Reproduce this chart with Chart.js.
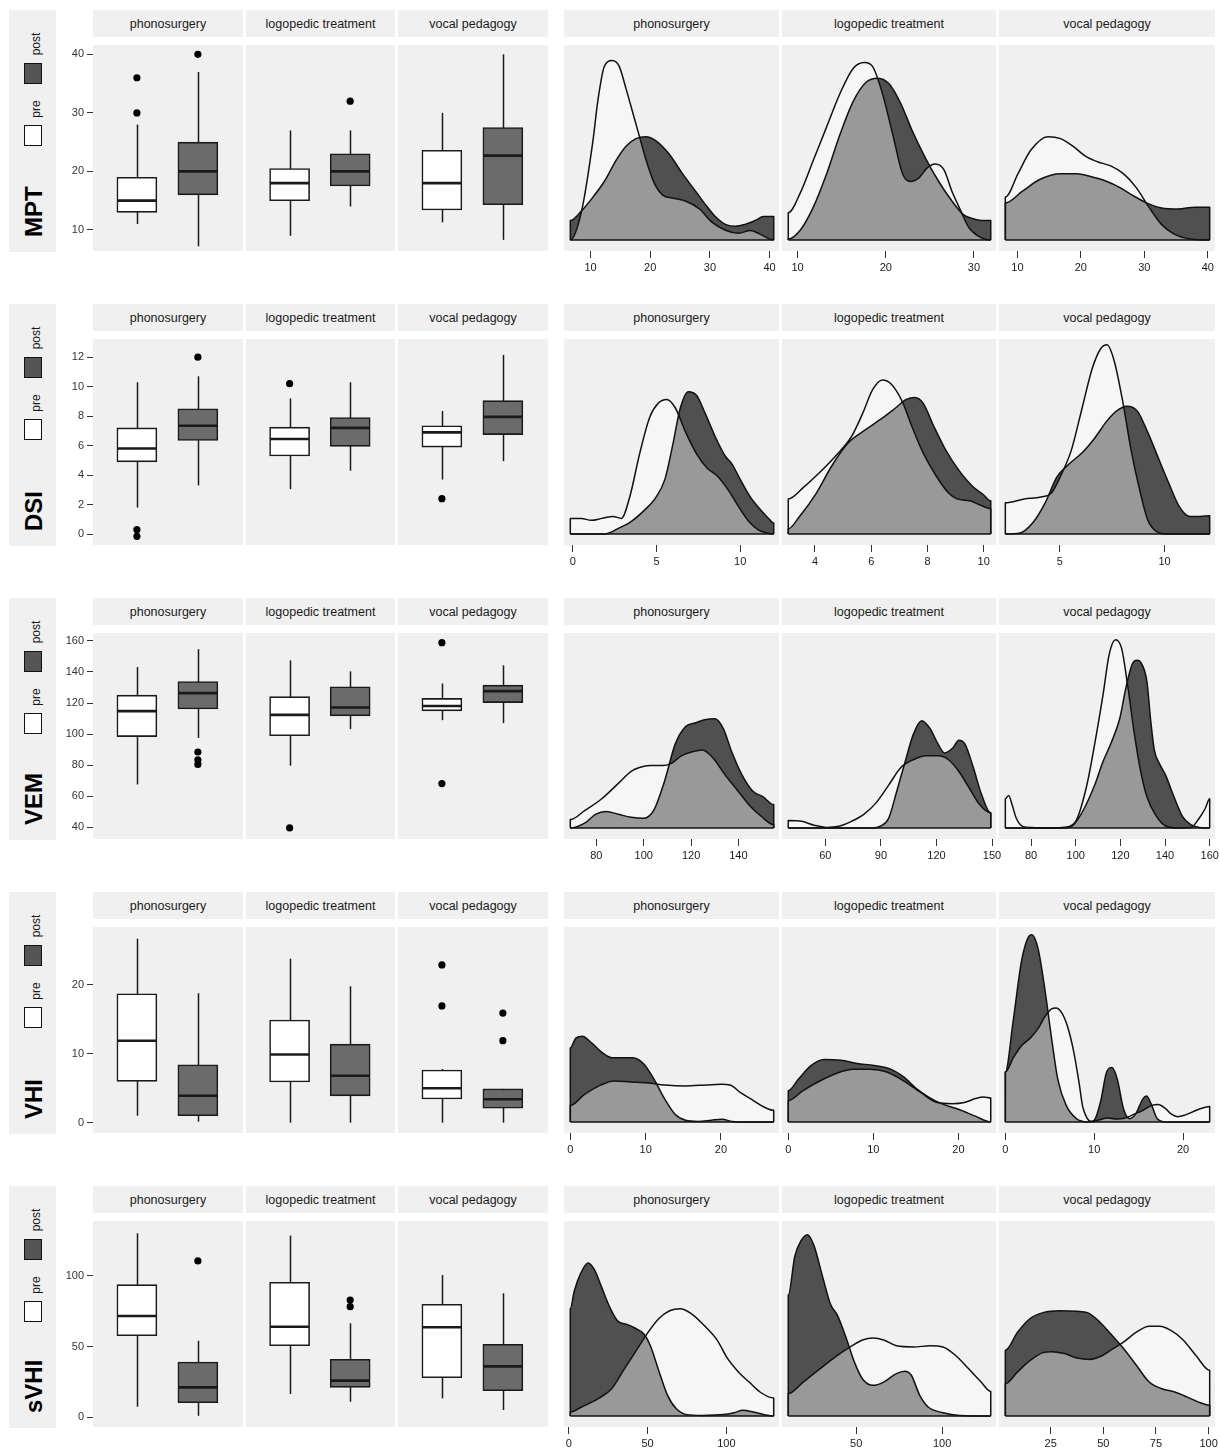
<!DOCTYPE html>
<html><head><meta charset="utf-8">
<script src="https://cdn.jsdelivr.net/npm/chart.js@4.4.1/dist/chart.umd.min.js"></script>
<style>
body{margin:0;background:#fff;font-family:"Liberation Sans",Arial,Helvetica,sans-serif;}
#root{position:relative;width:1219px;height:1453px;overflow:hidden;background:#fff;}
.strip{position:absolute;background:#f0f0f0;color:#1a1a1a;font-size:12.5px;display:flex;align-items:center;justify-content:center;white-space:nowrap;}
.lgbox{position:absolute;background:#f0f0f0;}
.rot{position:absolute;text-align:center;transform:rotate(-90deg);white-space:nowrap;color:#1a1a1a;}
.sq{position:absolute;box-sizing:border-box;border:1.5px solid #111;}
canvas{position:absolute;}
</style></head>
<body><div id="root"></div>
<script>
// ---------------- categories ----------------
const groups = ['phonosurgery', 'logopedic treatment', 'vocal pedagogy'];
const phases = ['pre', 'post'];
const measures = ['MPT', 'DSI', 'VEM', 'VHI', 'sVHI'];

// ---------------- boxplot stats: [lower whisker, Q1, median, Q3, upper whisker] ----------------
const mptBoxPre   = [[11, 13, 15, 19, 28], [9, 15, 18, 20.5, 27], [11.3, 13.4, 18, 23.6, 30]];
const mptBoxPost  = [[7.2, 16, 20, 25, 37], [14, 17.5, 20, 23, 27], [8.3, 14.3, 22.7, 27.5, 40]];
const mptOutPre   = [[36, 30], [], []];
const mptOutPost  = [[40], [32], []];

const dsiBoxPre   = [[1.8, 4.9, 5.8, 7.2, 10.3], [3.05, 5.3, 6.45, 7.25, 9.2], [3.7, 5.9, 6.9, 7.35, 8.35]];
const dsiBoxPost  = [[3.3, 6.35, 7.35, 8.5, 10.7], [4.3, 5.95, 7.2, 7.9, 10.3], [4.95, 6.75, 7.95, 9.05, 12.15]];
const dsiOutPre   = [[0.3, -0.15], [10.2], [2.4]];
const dsiOutPost  = [[12], [], []];

const vemBoxPre   = [[67.6, 98.4, 114.8, 125.1, 143.2], [79.7, 99, 112.4, 124.1, 147.5], [109, 115, 118.1, 123, 132.6]];
const vemBoxPost  = [[97.6, 116.2, 126.4, 133.9, 154.7], [103.3, 111.8, 117.1, 130.5, 140.4], [107.1, 120.3, 127.7, 131.5, 144.3]];
const vemOutPre   = [[], [39.6], [158.9, 68.2]];
const vemOutPost  = [[88.5, 83.5, 80.5], [], []];

const vhiBoxPre   = [[1, 6, 11.9, 18.7, 26.7], [0, 5.9, 9.9, 14.9, 23.8], [0, 3.45, 5, 7.65, 7.8]];
const vhiBoxPost  = [[0.15, 1, 3.9, 8.4, 18.8], [0, 3.9, 6.8, 11.4, 19.8], [0, 2.1, 3.4, 4.9, 4.9]];
const vhiOutPre   = [[], [], [22.9, 16.95]];
const vhiOutPost  = [[], [], [15.9, 11.9]];

const svhiBoxPre  = [[7.5, 57.6, 71.5, 93.7, 129.9], [16.5, 50.6, 64, 95.3, 128.3], [13.4, 28, 63.6, 79.8, 100.5]];
const svhiBoxPost = [[1.1, 10.3, 21.2, 39.1, 54.1], [11, 21.2, 25.9, 41, 66.4], [5.2, 18.8, 36, 51.6, 87.6]];
const svhiOutPre  = [[], [], []];
const svhiOutPost = [[110.4], [82.8, 78.1], []];

// boxplot y-axis ranges and tick labels
const boxYRange = [[6.4, 41.6], [-0.74, 13.23], [32.5, 165.1], [-1.5, 28.4], [-6.8, 138.6]];
const boxYTicks = [[10, 20, 30, 40], [0, 2, 4, 6, 8, 10, 12], [40, 60, 80, 100, 120, 140, 160], [0, 10, 20], [0, 50, 100]];

// ---------------- density curves: [x, relative density] ----------------
const mptDensPre = [
  [[6.6,0],[8.5,0.15],[10.4,0.51],[11.2,0.71],[12.3,0.89],[13.6,0.92],[14.8,0.89],[15.9,0.78],[17.1,0.65],[18.2,0.53],[19.3,0.41],[20.7,0.29],[22.1,0.23],[23.7,0.215],[25.9,0.2],[28.2,0.16],[30.4,0.09],[32.6,0.05],[34.8,0.035],[36.8,0.048],[38.4,0.03],[40.7,0]],
  [[8.95,0.14],[10.3,0.24],[11.8,0.41],[13.3,0.58],[14.8,0.75],[16.3,0.88],[17.6,0.91],[18.5,0.89],[19.5,0.77],[20.8,0.54],[21.9,0.34],[22.8,0.3],[23.8,0.32],[24.7,0.37],[25.6,0.39],[26.6,0.36],[27.5,0.25],[28.5,0.15],[29.4,0.065],[30.5,0.02],[31.9,0]],
  [[8.1,0.22],[10.1,0.34],[12.1,0.46],[14.8,0.53],[16.8,0.52],[18.8,0.48],[20.7,0.43],[22.7,0.4],[24.7,0.38],[26.7,0.34],[28.7,0.27],[30.7,0.17],[32.7,0.08],[34.7,0.03],[37.3,0.005],[40.3,0]]
];
const mptDensPost = [
  [[6.6,0.1],[8.5,0.15],[10.4,0.22],[12.3,0.3],[14.3,0.41],[15.9,0.48],[17.6,0.52],[19.3,0.53],[20.9,0.51],[23.2,0.44],[25.4,0.34],[27.6,0.25],[29.3,0.18],[30.9,0.12],[32.6,0.08],[34.3,0.07],[35.9,0.08],[37.6,0.1],[39,0.12],[40.7,0.12]],
  [[8.95,0.005],[10.3,0.05],[11.8,0.17],[13.3,0.34],[14.8,0.54],[16.3,0.71],[17.8,0.81],[19.1,0.83],[20.4,0.8],[21.7,0.7],[23,0.56],[24.5,0.42],[26,0.3],[27.5,0.2],[28.8,0.13],[29.8,0.11],[30.9,0.1],[31.9,0.1]],
  [[8.1,0.19],[10.8,0.25],[13.5,0.31],[16.8,0.34],[19.4,0.34],[22.1,0.32],[24.1,0.3],[26.1,0.27],[28.1,0.23],[30.7,0.185],[32.7,0.164],[35.3,0.159],[38,0.168],[40.3,0.168]]
];

const dsiDensPre = [
  [[-0.15,0.08],[0.5,0.08],[1.1,0.07],[1.75,0.08],[2.4,0.09],[2.9,0.08],[3.4,0.19],[4,0.415],[4.6,0.6],[5.1,0.67],[5.6,0.69],[6.1,0.65],[6.75,0.52],[7.4,0.41],[8,0.34],[8.6,0.3],[9.25,0.23],[9.9,0.14],[10.5,0.065],[11.1,0.02],[11.6,0.005],[12,0]],
  [[3.05,0.18],[3.6,0.24],[4.2,0.32],[4.8,0.41],[5.3,0.5],[5.7,0.62],[6.05,0.74],[6.4,0.79],[6.7,0.77],[7.1,0.68],[7.45,0.55],[7.85,0.415],[8.3,0.3],[8.75,0.21],[9.05,0.18],[9.5,0.17],[9.85,0.15],[10.25,0.13]],
  [[2.4,0.16],[3.3,0.18],[4.1,0.19],[4.6,0.21],[5.05,0.3],[5.55,0.43],[6.05,0.64],[6.55,0.85],[6.95,0.95],[7.25,0.97],[7.6,0.885],[8,0.68],[8.4,0.43],[8.8,0.23],[9.2,0.07],[9.6,0.014],[10.2,0],[12.15,0]]
];
const dsiDensPost = [
  [[-0.15,0],[1.9,0],[2.75,0.03],[3.5,0.065],[4.25,0.12],[4.9,0.18],[5.5,0.28],[6,0.47],[6.4,0.64],[6.9,0.73],[7.4,0.71],[7.9,0.62],[8.5,0.5],[9.1,0.4],[9.5,0.36],[10,0.28],[10.6,0.19],[11.25,0.12],[11.75,0.074],[12,0.056]],
  [[3.05,0.026],[3.45,0.09],[4.05,0.21],[4.6,0.35],[5.2,0.47],[5.8,0.535],[6.4,0.595],[6.85,0.645],[7.25,0.69],[7.55,0.7],[7.85,0.67],[8.2,0.56],[8.65,0.43],[9.1,0.33],[9.6,0.245],[10,0.2],[10.25,0.17]],
  [[2.4,0],[3.1,0.005],[3.7,0.056],[4.3,0.16],[4.85,0.29],[5.45,0.36],[6.05,0.415],[6.65,0.49],[7.25,0.58],[7.7,0.63],[8.2,0.655],[8.7,0.63],[9.2,0.52],[9.7,0.39],[10.2,0.26],[10.7,0.14],[11.2,0.09],[11.7,0.09],[12.15,0.094]]
];

const vemDensPre = [
  [[69,0.043],[75.2,0.09],[82.3,0.15],[89.4,0.23],[94.7,0.29],[98.2,0.31],[102.7,0.32],[108,0.32],[111.5,0.33],[115.9,0.37],[120.4,0.39],[124.8,0.4],[129.2,0.36],[134.5,0.27],[139.8,0.19],[145.1,0.11],[149.6,0.06],[154.9,0.017]],
  [[40,0.038],[47.3,0.034],[54,0.014],[60.7,0.003],[67.4,0.009],[74.1,0.034],[80.8,0.07],[87.5,0.13],[94.2,0.22],[100.8,0.31],[107.5,0.35],[114.2,0.37],[120.9,0.37],[126.5,0.35],[132.1,0.29],[137.7,0.205],[143.3,0.12],[149.3,0.077]],
  [[68.5,0.15],[70,0.166],[71.5,0.12],[73.4,0.05],[76.3,0.008],[80,0.002],[90,0],[95,0.004],[100,0.034],[104.7,0.205],[108.5,0.43],[112.2,0.68],[115,0.89],[117.8,0.966],[120.6,0.92],[123.4,0.72],[126.3,0.48],[129.1,0.29],[131.9,0.16],[135.6,0.07],[140.3,0.01],[146,0],[151.5,0.002],[155.3,0.05],[158,0.1],[160,0.15]]
];
const vemDensPost = [
  [[69,0],[75.2,0.026],[79.6,0.07],[84.1,0.085],[89.4,0.07],[94.7,0.055],[100,0.05],[104.4,0.094],[108.8,0.24],[113.3,0.43],[117.7,0.52],[122.1,0.54],[125.7,0.555],[130.1,0.56],[133.6,0.51],[137.2,0.39],[141.6,0.27],[146,0.19],[150.4,0.16],[154.9,0.12]],
  [[40,0],[85.2,0],[89.7,0.009],[94.2,0.05],[98.6,0.19],[103.1,0.34],[107.5,0.48],[112,0.55],[116.5,0.51],[120.9,0.43],[124.3,0.385],[128.8,0.41],[132.1,0.45],[135.4,0.43],[139.9,0.31],[144.4,0.17],[149.3,0.077]],
  [[68.5,0],[95,0],[99.1,0.017],[103.8,0.1],[108.5,0.22],[112.2,0.34],[116,0.44],[119.7,0.56],[122.5,0.72],[125.3,0.84],[127.5,0.86],[129.1,0.85],[131.9,0.75],[133.6,0.55],[135.2,0.4],[137.5,0.33],[140.3,0.27],[144,0.16],[147.8,0.06],[151.5,0.017],[155.3,0.003],[160,0]]
];

const vhiDensPre = [
  [[0,0.085],[1.85,0.14],[4.1,0.19],[5.8,0.21],[8,0.205],[10.3,0.2],[12.5,0.19],[15.3,0.185],[18.1,0.19],[20.1,0.193],[21.2,0.19],[22.6,0.15],[24.3,0.11],[25.7,0.077],[27,0.06]],
  [[0,0.11],[1.7,0.16],[3.7,0.21],[5.7,0.25],[7.65,0.27],[9.6,0.27],[11.6,0.256],[13.6,0.21],[15.6,0.15],[17.5,0.1],[19.3,0.094],[20.7,0.1],[22,0.12],[23,0.128],[23.8,0.123]],
  [[0,0.256],[0.9,0.33],[1.8,0.39],[2.8,0.43],[3.7,0.48],[4.45,0.54],[5.2,0.58],[5.7,0.585],[6.35,0.56],[7,0.49],[7.7,0.36],[8.3,0.2],[8.7,0.08],[9.2,0.02],[9.7,0.002],[10.5,0.01],[11.5,0.02],[12.5,0.015],[13.5,0.02],[14.5,0.04],[15.5,0.06],[16.5,0.085],[17.2,0.09],[18,0.07],[18.7,0.04],[19.4,0.027],[20.2,0.035],[21.5,0.06],[23,0.08]]
];
const vhiDensPost = [
  [[0,0.38],[0.73,0.43],[1.6,0.44],[2.7,0.41],[4.1,0.36],[5.5,0.33],[6.9,0.33],[8.3,0.33],[9.7,0.3],[11.1,0.22],[12.5,0.12],[13.9,0.04],[15.3,0.009],[17,0.003],[18.7,0.009],[20.1,0.014],[21.5,0.003],[23.2,0],[27,0]],
  [[0,0.16],[1.2,0.22],[2.7,0.29],[4.2,0.32],[6.2,0.316],[8.1,0.3],[10.1,0.29],[12.1,0.27],[13.6,0.23],[15.1,0.17],[16.5,0.128],[18,0.094],[20,0.065],[22,0.03],[23.8,0]],
  [[0,0.256],[0.86,0.51],[1.8,0.82],[2.5,0.94],[3,0.96],[3.7,0.885],[4.45,0.68],[5.2,0.43],[5.9,0.22],[6.85,0.085],[8,0.017],[9.2,0],[10,0.009],[10.7,0.1],[11.4,0.256],[12,0.28],[12.6,0.22],[13.3,0.068],[14,0.017],[14.7,0.043],[15.5,0.12],[15.9,0.133],[16.4,0.094],[17.1,0.017],[18.1,0],[23,0]]
];

const svhiDensPre = [
  [[1,0.02],[8.2,0.046],[19,0.09],[27.2,0.14],[35.4,0.243],[43.6,0.345],[50.4,0.43],[57.2,0.5],[64,0.54],[70.8,0.55],[77.7,0.525],[85.8,0.465],[94,0.39],[100.8,0.294],[107.6,0.226],[114.4,0.174],[121.3,0.123],[130,0.092]],
  [[10.5,0.115],[19.2,0.174],[29.1,0.243],[38.9,0.31],[47.5,0.36],[53.7,0.39],[59.9,0.4],[66,0.39],[73.4,0.36],[83.2,0.354],[93.1,0.36],[100.5,0.354],[107.9,0.31],[115.3,0.243],[122.7,0.174],[128.3,0.126]],
  [[3.5,0.166],[9.3,0.226],[15.3,0.285],[21.4,0.325],[25.4,0.33],[31.5,0.32],[37.5,0.297],[43.5,0.29],[49.6,0.31],[54.6,0.345],[59.7,0.38],[65.7,0.43],[71.8,0.46],[76.8,0.46],[81.9,0.44],[87.9,0.39],[94,0.31],[100.5,0.234]]
];
const svhiDensPost = [
  [[1,0.55],[3.5,0.64],[7.5,0.73],[12.3,0.785],[16.3,0.75],[20.4,0.67],[25.9,0.56],[31.3,0.485],[36.8,0.47],[42.2,0.45],[47.7,0.42],[51.8,0.36],[57.2,0.23],[62.7,0.106],[68.1,0.038],[74.9,0.007],[84.5,0.003],[98.1,0.007],[104.9,0.017],[110.4,0.029],[117.2,0.02],[124,0.007],[130,0]],
  [[10.5,0.62],[14.3,0.82],[18,0.9],[21.7,0.93],[25.4,0.875],[30.3,0.72],[35.2,0.57],[38.9,0.52],[43.8,0.41],[48.8,0.28],[53.7,0.19],[59.9,0.157],[66,0.174],[73.4,0.217],[78.3,0.23],[82,0.21],[87,0.106],[91.9,0.046],[100.5,0.017],[110.3,0.003],[128.3,0]],
  [[3.5,0.337],[9.3,0.43],[15.3,0.5],[21.4,0.53],[29.4,0.54],[37.5,0.537],[42.5,0.53],[47.6,0.49],[53.6,0.42],[59.7,0.345],[65.7,0.26],[71.8,0.174],[77.8,0.14],[83.9,0.123],[89.9,0.097],[96,0.068],[100.5,0.055]]
];

// density x-axis tick labels
const mptDenTicks  = [[10, 20, 30, 40], [10, 20, 30], [10, 20, 30, 40]];
const dsiDenTicks  = [[0, 5, 10], [4, 6, 8, 10], [5, 10]];
const vemDenTicks  = [[80, 100, 120, 140], [60, 90, 120, 150], [80, 100, 120, 140, 160]];
const vhiDenTicks  = [[0, 10, 20], [0, 10, 20], [0, 10, 20]];
const svhiDenTicks = [[0, 50, 100], [50, 100], [25, 50, 75, 100]];

// ---------------- assembly (references only) ----------------
const boxPre  = [mptBoxPre, dsiBoxPre, vemBoxPre, vhiBoxPre, svhiBoxPre];
const boxPost = [mptBoxPost, dsiBoxPost, vemBoxPost, vhiBoxPost, svhiBoxPost];
const outPre  = [mptOutPre, dsiOutPre, vemOutPre, vhiOutPre, svhiOutPre];
const outPost = [mptOutPost, dsiOutPost, vemOutPost, vhiOutPost, svhiOutPost];
const densPre  = [mptDensPre, dsiDensPre, vemDensPre, vhiDensPre, svhiDensPre];
const densPost = [mptDensPost, dsiDensPost, vemDensPost, vhiDensPost, svhiDensPost];
const denTicks = [mptDenTicks, dsiDenTicks, vemDenTicks, vhiDenTicks, svhiDenTicks];

// ---------------- styling / layout ----------------
const PANEL_BG = '#f0f0f0';
const PRE_BOX = '#ffffff', POST_BOX = '#6b6b6b';
const PRE_FILL = 'rgba(255,255,255,0.42)', POST_FILL = 'rgba(0,0,0,0.667)';
const ROW_STEP = 294, STRIP_TOP = 10, STRIP_H = 27, PANEL_TOP = 45, PANEL_H = 206;
const BOX_X = [[93, 243], [246, 395], [398, 548]];
const DEN_X = [[564, 779], [782, 996], [999, 1215]];

Chart.defaults.font.family = '"Liberation Sans", Arial, Helvetica, sans-serif';
Chart.defaults.color = '#1a1a1a';
Chart.defaults.animation = false;

const root = document.getElementById('root');
function addEl(cls, l, t, w, h, text, style) {
  const d = document.createElement('div');
  d.className = cls;
  d.style.left = l + 'px'; d.style.top = t + 'px';
  d.style.width = w + 'px'; d.style.height = h + 'px';
  if (text !== undefined) d.textContent = text;
  if (style) Object.assign(d.style, style);
  root.appendChild(d);
  return d;
}
function makeCanvas(l, t, w, h) {
  const c = document.createElement('canvas');
  c.width = w; c.height = h;
  c.style.left = l + 'px'; c.style.top = t + 'px';
  c.style.width = w + 'px'; c.style.height = h + 'px';
  root.appendChild(c);
  return c;
}

const panelBg = {
  id: 'panelBg',
  beforeDraw(chart) {
    const a = chart.chartArea, ctx = chart.ctx;
    ctx.save(); ctx.fillStyle = PANEL_BG;
    ctx.fillRect(a.left, a.top, a.right - a.left, a.bottom - a.top);
    ctx.restore();
  }
};

function boxChart(row, g, showAxis) {
  const [x0, x1] = BOX_X[g];
  const top = PANEL_TOP + row * ROW_STEP;
  const axisW = showAxis ? 40 : 0;
  const c = makeCanvas(x0 - axisW, top - 10, x1 - x0 + axisW, PANEL_H + 20);
  const stats = [boxPre[row][g], boxPost[row][g]];
  const outs = [];
  outPre[row][g].forEach(v => outs.push({ x: 1, y: v }));
  outPost[row][g].forEach(v => outs.push({ x: 2, y: v }));
  const yr = boxYRange[row];
  const whisk = {
    id: 'whisk',
    beforeDatasetsDraw(ch) {
      const xs = ch.scales.x, ys = ch.scales.y, ctx = ch.ctx;
      ctx.save(); ctx.strokeStyle = '#1a1a1a'; ctx.lineWidth = 1.5;
      stats.forEach((s, i) => {
        const px = Math.round(xs.getPixelForValue(i + 1)) + 0.5;
        ctx.beginPath();
        ctx.moveTo(px, ys.getPixelForValue(s[0]));
        ctx.lineTo(px, ys.getPixelForValue(s[4]));
        ctx.stroke();
      });
      ctx.restore();
    },
    afterDatasetsDraw(ch) {
      const ys = ch.scales.y, ctx = ch.ctx;
      const meta = ch.getDatasetMeta(1);
      ctx.save(); ctx.strokeStyle = '#1a1a1a'; ctx.lineWidth = 2.6;
      stats.forEach((s, i) => {
        const el = meta.data[i];
        const py = ys.getPixelForValue(s[2]);
        ctx.beginPath();
        ctx.moveTo(el.x - el.width / 2 + 0.5, py);
        ctx.lineTo(el.x + el.width / 2 - 0.5, py);
        ctx.stroke();
      });
      ctx.restore();
    }
  };
  new Chart(c, {
    type: 'bar',
    data: {
      datasets: [
        { type: 'scatter', data: outs, pointRadius: 3.6, pointHoverRadius: 3.6, backgroundColor: '#000', borderWidth: 0, order: 0, clip: false },
        { type: 'bar', data: stats.map((s, i) => ({ x: i + 1, y: [s[1], s[3]] })),
          backgroundColor: [PRE_BOX, POST_BOX], borderColor: '#1a1a1a', borderWidth: 1.6,
          borderSkipped: false, barThickness: 40, order: 1 }
      ]
    },
    options: {
      responsive: false, animation: false, events: [],
      layout: { autoPadding: false, padding: { top: 10, bottom: 10, left: 0, right: 0 } },
      plugins: { legend: { display: false }, tooltip: { enabled: false } },
      scales: {
        x: { type: 'linear', min: 0.28, max: 2.74, display: false, offset: false },
        y: {
          min: yr[0], max: yr[1], display: showAxis, position: 'left',
          afterBuildTicks: s => { s.ticks = boxYTicks[row].map(v => ({ value: v })); },
          afterFit: s => { s.width = axisW; },
          ticks: { font: { size: 11 }, color: '#333', padding: 3, callback: v => String(v) },
          grid: { drawOnChartArea: false, drawTicks: true, tickLength: 6, color: '#333', lineWidth: 1 },
          border: { display: false }
        }
      }
    },
    plugins: [panelBg, whisk]
  });
}

function densChart(row, g) {
  const [x0, x1] = DEN_X[g];
  const top = PANEL_TOP + row * ROW_STEP;
  const c = makeCanvas(x0 - 20, top - 10, x1 - x0 + 40, PANEL_H + 40);
  const pre = densPre[row][g], post = densPost[row][g];
  const xs = pre.concat(post).map(p => p[0]);
  const dmin = Math.min(...xs), dmax = Math.max(...xs), rng = dmax - dmin;
  const closed = arr => [{ x: arr[0][0], y: 0 }]
    .concat(arr.map(p => ({ x: p[0], y: p[1] })))
    .concat([{ x: arr[arr.length - 1][0], y: 0 }]);
  const baseLine = {
    id: 'baseLine',
    afterDatasetsDraw(ch) {
      const xsc = ch.scales.x, ysc = ch.scales.y, ctx = ch.ctx;
      const py = ysc.getPixelForValue(0);
      ctx.save(); ctx.strokeStyle = '#111'; ctx.lineWidth = 1.6;
      ctx.beginPath(); ctx.moveTo(xsc.getPixelForValue(dmin), py); ctx.lineTo(xsc.getPixelForValue(dmax), py); ctx.stroke();
      ctx.restore();
    }
  };
  const common = { fill: 'origin', borderColor: '#111', borderWidth: 1.5, pointRadius: 0, cubicInterpolationMode: 'monotone', borderJoinStyle: 'round' };
  new Chart(c, {
    type: 'line',
    data: {
      datasets: [
        Object.assign({ label: phases[0], data: closed(pre), backgroundColor: PRE_FILL }, common),
        Object.assign({ label: phases[1], data: closed(post), backgroundColor: POST_FILL }, common)
      ]
    },
    options: {
      responsive: false, animation: false, events: [],
      layout: { autoPadding: false, padding: { top: 10, bottom: 0, left: 20, right: 20 } },
      plugins: { legend: { display: false }, tooltip: { enabled: false }, filler: { drawTime: 'beforeDatasetsDraw' } },
      scales: {
        x: {
          type: 'linear', position: 'bottom', min: dmin - 0.031 * rng, max: dmax + 0.026 * rng,
          afterBuildTicks: s => { s.ticks = denTicks[row][g].map(v => ({ value: v })); },
          afterFit: s => { s.height = 30; },
          ticks: { font: { size: 11 }, color: '#1a1a1a', padding: 3, autoSkip: false, maxRotation: 0, minRotation: 0, callback: v => String(v) },
          grid: { drawOnChartArea: false, drawTicks: true, tickLength: 7, color: '#333', lineWidth: 1 },
          border: { display: false }
        },
        y: { type: 'linear', display: false, min: -0.0565, max: 1, afterFit: s => { s.width = 0; } }
      }
    },
    plugins: [panelBg, baseLine]
  });
}

measures.forEach((m, r) => {
  const off = r * ROW_STEP;
  // legend column
  addEl('lgbox', 9, STRIP_TOP + off, 47, 242);
  addEl('rot', 36 - 20, 43.5 + off - 7, 40, 14, phases[1], { fontSize: '12px', lineHeight: '14px' });
  addEl('sq', 24, 63 + off, 18, 21, undefined, { background: '#555' });
  addEl('rot', 36 - 20, 109 + off - 7, 40, 14, phases[0], { fontSize: '12px', lineHeight: '14px' });
  addEl('sq', 24, 125 + off, 18, 21, undefined, { background: '#fff' });
  addEl('rot', 34 - 60, 237 + off - 60 - 14, 120, 28, m,
        { fontSize: '24px', lineHeight: '28px', fontWeight: 'bold', textAlign: 'left', color: '#000' });
  // strips
  groups.forEach((gname, g) => {
    addEl('strip', BOX_X[g][0], STRIP_TOP + off, BOX_X[g][1] - BOX_X[g][0], STRIP_H, gname);
    addEl('strip', DEN_X[g][0], STRIP_TOP + off, DEN_X[g][1] - DEN_X[g][0], STRIP_H, gname);
  });
  groups.forEach((gname, g) => { boxChart(r, g, g === 0); densChart(r, g); });
});
</script>
</body></html>
